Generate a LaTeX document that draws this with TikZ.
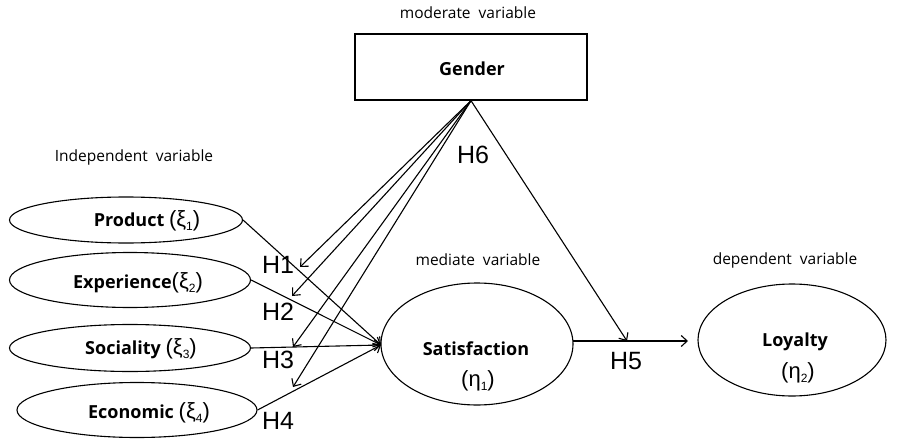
\documentclass[tikz,border=0pt]{standalone}
\usepackage{fontspec}
\setmainfont{Open Sans}
\newfontfamily\hfont{Liberation Sans}
\usetikzlibrary{shapes.geometric,arrows.meta}
\newcommand\gk[2]{{\hfont\mdseries\fontsize{22}{24}\selectfont(#1\raisebox{-4pt}{\fontsize{12}{12}\selectfont #2})}}
\begin{document}
\begin{tikzpicture}[x=1pt,y=-1pt,
  oval/.style={draw,ellipse,line width=1.1pt,inner sep=0pt},
  lbl/.style={font=\fontsize{15.5}{17}\selectfont},
  bname/.style={font=\fontsize{18}{20}\selectfont\bfseries},
  hyp/.style={font=\hfont\fontsize{25}{28}\selectfont},
  arr/.style={line width=1.1pt,-{Straight Barb[length=6pt,width=11pt]}}]
\useasboundingbox (0,0) rectangle (898,439);
% titles
\node[lbl] (tmod) at (468,13) {moderate\ \ variable};
\node[lbl] (tind) at (134,157) {Independent\ \ variable};
\node[lbl] (tmed) at (478,260) {mediate\ \ variable};
\node[lbl] (tdep) at (785,260) {dependent\ \ variable};
% gender
\node[draw,line width=1.3pt,minimum width=232pt,minimum height=66pt,inner sep=0pt] (gen) at (471,67) {};
\node[bname] (gent) at (472,69) {Gender};
% independent ellipses
\node[oval,minimum width=233pt,minimum height=46pt] (prod) at (126,220) {};
\node[oval,minimum width=241pt,minimum height=55pt] (exp) at (130,280) {};
\node[oval,minimum width=241pt,minimum height=47pt] (soc) at (130,348) {};
\node[oval,minimum width=240pt,minimum height=55pt] (eco) at (137,410) {};
\node[bname] (prodt) at (147,221) {Product \gk{ξ}{1}};
\node[bname] (expt) at (138,283) {Experience\gk{ξ}{2}};
\node[bname] (soct) at (141,349) {Sociality \gk{ξ}{3}};
\node[bname] (ecot) at (149,413) {Economic \gk{ξ}{4}};
% satisfaction and loyalty
\node[oval,minimum width=192pt,minimum height=122pt] (sat) at (477,344) {};
\node[bname] (satt) at (476,349) {Satisfaction};
\node (sate) at (478,381) {\gk{η}{1}};
\node[oval,minimum width=188pt,minimum height=112pt] (loy) at (792,340) {};
\node[bname] (loyt) at (795,342) {Loyalty};
\node (loye) at (798,373) {\gk{η}{2}};
% gender arrow tips
\coordinate (t1) at (300,267);
\coordinate (t2) at (292,296);
\coordinate (t3) at (293,347);
\coordinate (t4) at (293,387);
\coordinate (t6) at (627,341);
\coordinate (sin) at (381,345);
\coordinate (sout) at (573,341);
\coordinate (lin) at (688,341);
% connectors
\draw[arr] (prod.east) -- (sin);
\draw[arr] (exp.east) -- (sin);
\draw[arr] (soc.east) -- (sin);
\draw[arr] (eco.east) -- (sin);
\draw[arr] (gen.south) -- (t1);
\draw[arr] (gen.south) -- (t2);
\draw[arr] (gen.south) -- (t3);
\draw[arr] (gen.south) -- (t4);
\draw[arr] (gen.south) -- (t6);
\draw[arr] (sout) -- (lin);
% hypotheses
\node[hyp] (h1) at (278,265) {H1};
\node[hyp] (h2) at (278,312) {H2};
\node[hyp] (h3) at (278,360) {H3};
\node[hyp] (h4) at (278,421) {H4};
\node[hyp] (h5) at (626,361) {H5};
\node[hyp] (h6) at (473,155) {H6};
\end{tikzpicture}
\end{document}
